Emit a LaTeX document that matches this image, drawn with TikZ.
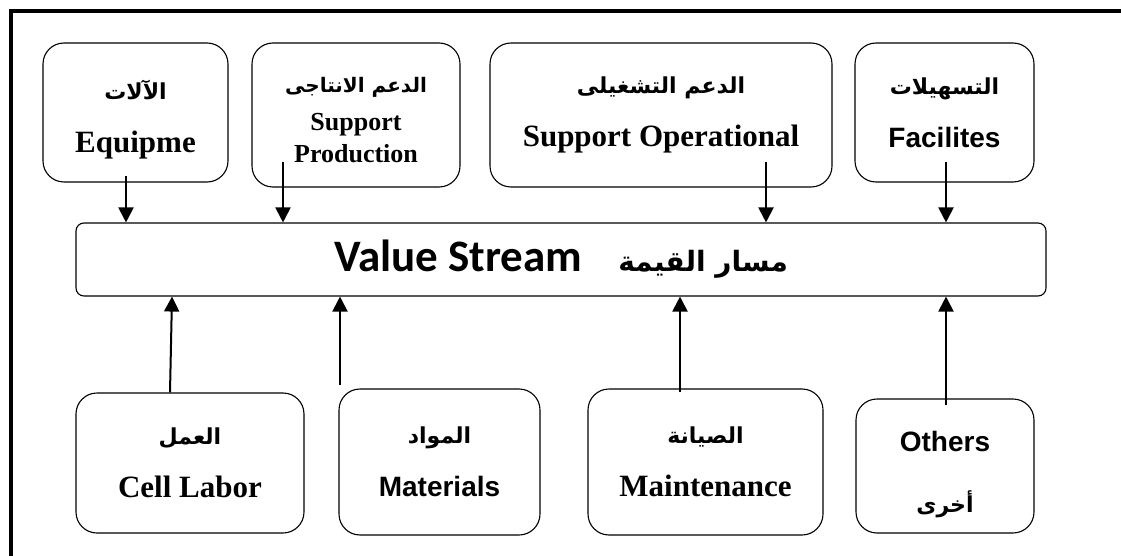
\documentclass[tikz,border=0pt]{standalone}
\usepackage{fontspec}
\usetikzlibrary{arrows.meta}
\setmainfont{Liberation Serif}
\newfontfamily\arialfont{Liberation Sans}
\newfontfamily\calibrifont{Carlito}
\newfontfamily\arabicfont[Script=Arabic]{DejaVu Sans}
\TeXXeTstate=1
\newcommand{\artxt}[1]{{\arabicfont\fontsize{22}{22}\selectfont\beginR #1\endR}}
\newcommand{\arialtxt}[1]{{\arialfont\fontsize{28}{28}\selectfont #1}}

\begin{document}
\begin{tikzpicture}[x=1pt,y=-1pt,>={Triangle[length=15pt,width=15pt]},
  box/.style={draw,line width=1.1pt,rounded corners=21pt,align=center,inner sep=0pt,
    font=\bfseries\fontsize{31}{53}\selectfont},
  flow/.style={->,line width=2pt}]
\useasboundingbox (0,0) rectangle (1121,556);
\draw[line width=3.5pt] (11,556) -- (11,11) -- (1121,11);
% top row
\node[box,minimum width=185pt,minimum height=139pt] (equip) at (135.5,112.5) {\artxt{الآلات}\\Equipme\\[-60pt]\mbox{}};
\node[box,minimum width=208pt,minimum height=144pt] (prod) at (356,115)
  {{\arabicfont\fontsize{20}{20}\selectfont\beginR الدعم الانتاجى\endR}\\[-15pt]{\fontsize{26}{26}\selectfont Support}\\[-21pt]{\fontsize{26}{26}\selectfont Production}\\[-62pt]\mbox{}};
\node[box,minimum width=342pt,minimum height=144pt] (oper) at (661,115) {\artxt{الدعم التشغيلى}\\Support Operational};
\node[box,minimum width=179pt,minimum height=139pt] (fac) at (944.5,112.5) {\artxt{التسهيلات}\\\arialtxt{Facilites}};
% value stream
\node[box,rounded corners=8pt,minimum width=970pt,minimum height=73pt] (vs) at (561,259.5)
  {{\calibrifont\fontsize{45}{45}\selectfont Value Stream}\hspace{36pt}{\arabicfont\fontsize{28}{28}\selectfont\beginR مسار القيمة\endR}};
% bottom row
\node[box,minimum width=228pt,minimum height=140pt] (labor) at (190,463) {\artxt{العمل}\\Cell Labor};
\node[box,minimum width=201pt,minimum height=146pt] (mat) at (439.5,462) {\artxt{المواد}\\\arialtxt{Materials}};
\node[box,minimum width=235pt,minimum height=146pt] (maint) at (705.5,462) {\artxt{الصيانة}\\Maintenance};
\node[box,minimum width=178pt,minimum height=134pt] (others) at (945,466) {\arialtxt{Others}\\[8pt]\artxt{أخرى}\\[-64pt]\mbox{}};
% arrows into the stream
\draw[flow] ([xshift=-9.5pt,yshift=7pt]equip.south) -- ([xshift=-9.5pt]equip.south |- vs.north);
\draw[flow] ([xshift=-73pt,yshift=26pt]prod.south) -- ([xshift=-73pt]prod.south |- vs.north);
\draw[flow] ([xshift=105pt,yshift=26pt]oper.south) -- ([xshift=105pt]oper.south |- vs.north);
\draw[flow] ([xshift=1.5pt,yshift=21pt]fac.south) -- ([xshift=1.5pt]fac.south |- vs.north);
\draw[flow] ([xshift=-20pt]labor.north) -- ([xshift=-18pt]labor.north |- vs.south);
\draw[flow] ([xshift=-99.5pt,yshift=3pt]mat.north) -- ([xshift=-99.5pt]mat.north |- vs.south);
\draw[flow] ([xshift=-25.5pt,yshift=-4pt]maint.north) -- ([xshift=-25.5pt]maint.north |- vs.south);
\draw[flow] ([xshift=1pt,yshift=-7pt]others.north) -- ([xshift=1pt]others.north |- vs.south);
\end{tikzpicture}
\end{document}
